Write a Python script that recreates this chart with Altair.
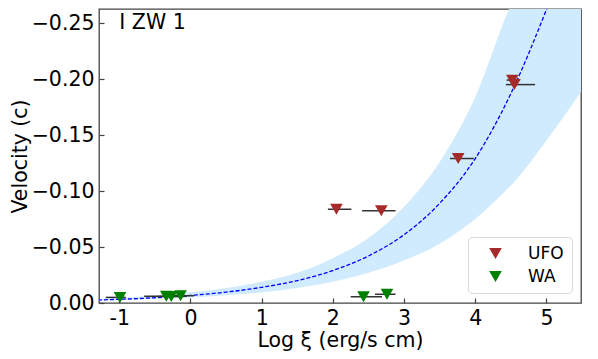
import altair as alt
import pandas as pd

# ---- data ----
ufo_x = [2.05, 2.68, 3.76, 4.52, 4.55]
ufo_v = [-0.0837, -0.0824, -0.129, -0.199, -0.195]
ufo_lo = [1.93, 2.41, 3.645, 4.44, 4.43]
ufo_hi = [2.26, 2.88, 3.98, 4.63, 4.84]

wa_x = [-0.99, -0.34, -0.27, -0.14, 2.43, 2.76]
wa_v = [-0.0050, -0.0060, -0.0058, -0.0065, -0.0056, -0.0078]
wa_lo = [-1.19, -0.65, -0.45, -0.30, 2.25, 2.59]
wa_hi = [-0.91, -0.05, -0.10, 0.05, 2.69, 2.88]

fit_x = [-1.3, -1.0, -0.5, 0.0, 0.5, 1.0, 1.5, 2.0, 2.5, 3.0, 3.5, 4.0, 4.5, 5.05]
fit_v = [-0.0027, -0.0033, -0.0047, -0.0068, -0.0097, -0.014, -0.020, -0.029,
         -0.042, -0.061, -0.089, -0.129, -0.187, -0.27]

band_x = [-1.3, -1.0, -0.5, 0.0, 0.5, 1.0, 1.5, 2.0, 2.5, 3.0, 3.5, 4.0, 4.5, 4.53, 5.0, 5.5]
band_top = [-0.0036, -0.0045, -0.0066, -0.0095, -0.0135, -0.019, -0.027, -0.040,
            -0.058, -0.086, -0.126, -0.184, -0.266, -0.27, -0.27, -0.27]
band_bot = [-0.0021, -0.0027, -0.0037, -0.0050, -0.0069, -0.0095, -0.0135, -0.019,
            -0.027, -0.038, -0.053, -0.075, -0.105, -0.107, -0.145, -0.19]

x_ticks = [-1, 0, 1, 2, 3, 4, 5]
y_ticks = [0.0, -0.05, -0.10, -0.15, -0.20, -0.25]
categories = ["UFO", "WA"]
colors = ["#a52a2a", "#008000"]
label_text = ["I ZW 1"]
label_x = [-1.0]
label_v = [-0.25]

# ---- tables ----
pts = pd.DataFrame({
    "x": ufo_x + wa_x,
    "v": ufo_v + wa_v,
    "lo": ufo_lo + wa_lo,
    "hi": ufo_hi + wa_hi,
    "type": ["UFO"] * len(ufo_x) + ["WA"] * len(wa_x),
})
fit = pd.DataFrame({"x": fit_x, "v": fit_v})
band = pd.DataFrame({"x": band_x, "top": band_top, "bot": band_bot})
ann = pd.DataFrame({"x": label_x, "v": label_v, "t": label_text})

FONT = "DejaVu Sans"
xs = alt.Scale(domain=[-1.285, 5.485], nice=False, zero=False)
ys = alt.Scale(domain=[0.0, -0.2625], nice=False, zero=False)

xaxis = alt.Axis(values=x_ticks, labelExpr="toString(datum.value)", title="Log ξ (erg/s cm)",
                 offset=-5, tickSize=5, domain=False, grid=False, labelPadding=5,
                 titlePadding=2)
yaxis = alt.Axis(values=y_ticks, format=".2f", title="Velocity (c)",
                 offset=-5, tickSize=5, domain=False, grid=False, labelPadding=5,
                 titlePadding=1)

area = alt.Chart(band).mark_area(color="#cfebfd", clip=True, interpolate="monotone").encode(
    x=alt.X("x:Q", scale=xs, axis=xaxis),
    y=alt.Y("top:Q", scale=ys, axis=yaxis),
    y2="bot:Q",
)
line = alt.Chart(fit).mark_line(color="#0000ff", strokeDash=[4, 2], strokeWidth=1.3,
                                clip=True, interpolate="monotone").encode(
    x=alt.X("x:Q", scale=xs),
    y=alt.Y("v:Q", scale=ys),
)
err = alt.Chart(pts).mark_rule(color="#333333", strokeWidth=1.5).encode(
    x=alt.X("lo:Q", scale=xs),
    x2="hi:Q",
    y=alt.Y("v:Q", scale=ys),
)
marks = alt.Chart(pts).mark_point(shape="triangle-down", filled=True, size=160,
                                  opacity=1).encode(
    x=alt.X("x:Q", scale=xs),
    y=alt.Y("v:Q", scale=ys),
    color=alt.Color("type:N", scale=alt.Scale(domain=categories, range=colors),
                    legend=alt.Legend(title=None, orient="none", legendX=369, legendY=228,
                                      symbolType="triangle-down", symbolSize=160,
                                      labelFontSize=17, labelFont=FONT, padding=8,
                                      rowPadding=5, strokeColor="#d8d8d8",
                                      fillColor="white", cornerRadius=4,
                                      symbolOffset=11, labelOffset=24,
                                      symbolStrokeWidth=0)),
)
text = alt.Chart(ann).mark_text(align="left", baseline="middle", fontSize=20.5,
                                font=FONT, color="black").encode(
    x=alt.X("x:Q", scale=xs),
    y=alt.Y("v:Q", scale=ys),
    text="t:N",
)

chart = alt.layer(area, line, err, marks, text).properties(
    width=482, height=294,
    autosize=alt.AutoSizeParams(type="none"),
    padding={"left": 91, "top": 1, "right": 9, "bottom": 52},
).configure_view(stroke="#444444", strokeWidth=1.3).configure_axis(
    labelFont=FONT, titleFont=FONT, labelFontSize=20.5, titleFontSize=20.5,
    labelColor="black", titleColor="black", titleFontWeight="normal",
    tickColor="#444444", tickWidth=1.2,
)

chart.save("out.html", embed_options={"renderer": "svg", "actions": False})
